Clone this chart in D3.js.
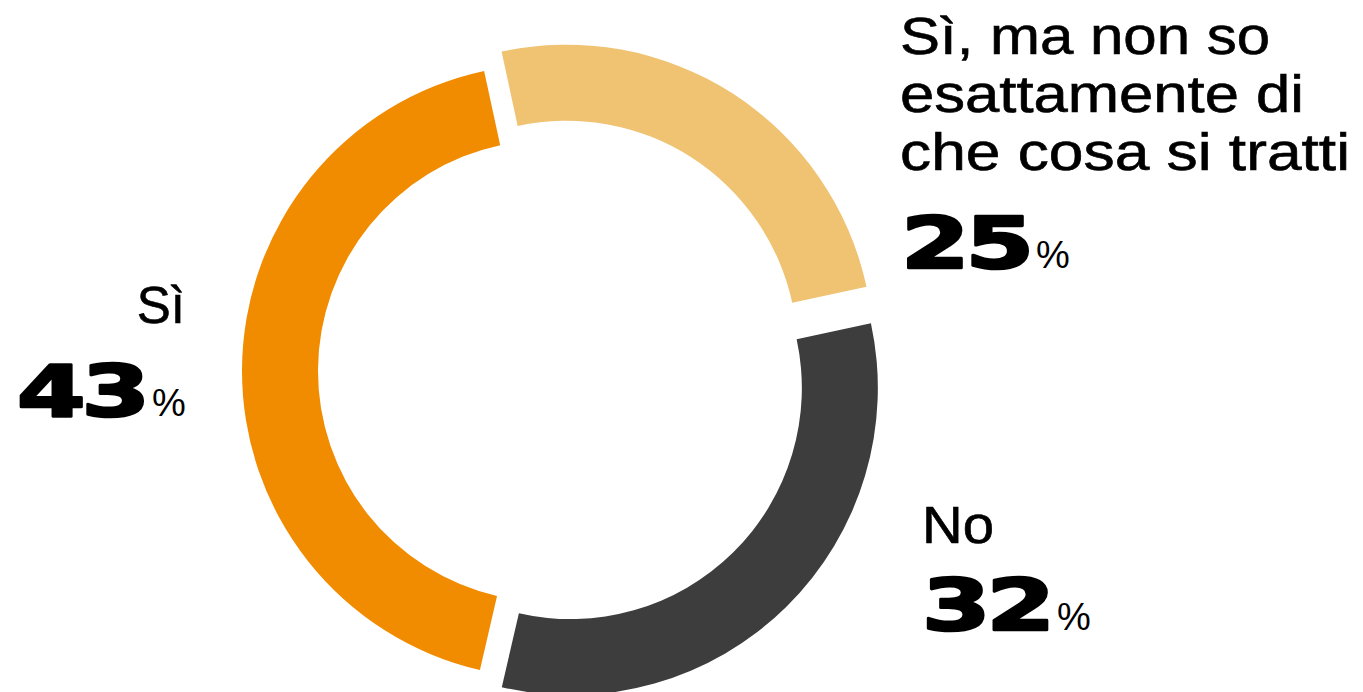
<!DOCTYPE html>
<html>
<head>
<meta charset="utf-8">
<script src="https://cdn.jsdelivr.net/npm/d3@7"></script>
<style>
  html, body { margin: 0; padding: 0; background: #fff; }
  svg { display: block; }
  .label { font-family: "Liberation Sans", Arial, sans-serif; font-size: 51px; fill: #000; stroke: #000; stroke-width: 0.6px; }
  .num { font-family: "DejaVu Sans", sans-serif; font-weight: bold; font-size: 72px; fill: #000; stroke: #000; stroke-width: 2.6px; stroke-linejoin: round; }
  .pct { font-family: "Liberation Sans", Arial, sans-serif; font-size: 38px; fill: #000; }
</style>
</head>
<body>
<svg class="donut" width="1363" height="692"></svg>
<script>
// Data, in pie order (clockwise from the top)
const categories = ["Sì, ma non so esattamente di che cosa si tratti", "No", "Sì"];
const values = [25, 32, 43];
const labelLines = [
  ["Sì, ma non so", "esattamente di", "che cosa si tratti"],
  ["No"],
  ["Sì"]
];
const colors = ["#EFC372", "#3D3D3D", "#F18C00"];

const width = 1363;
const height = 692;
const cx = 554;
const cy = 371;
const outerR = 307;
const innerR = 231;
const startDeg = -12.2;
const explode = [23, 24, 5];

// label blocks, one per slice
const labelLayout = [
  { x: 900, y: 54, step: 58, anchor: "start", widths: [370, 404, 450], numX: 901, numY: 268 },
  { x: 922, y: 543, step: 58, anchor: "start", widths: [72], numX: 922, numY: 630 },
  { x: 185, y: 323, step: 58, anchor: "end", widths: [null], numX: 17, numY: 416 }
];

const svg = d3.select(".donut").attr("viewBox", [0, 0, width, height]);

const pie = d3
  .pie()
  .sort(null)
  .startAngle((startDeg * Math.PI) / 180)
  .endAngle((startDeg * Math.PI) / 180 + Math.PI * 2)
  .value((d) => d);

const arc = d3.arc().innerRadius(innerR).outerRadius(outerR);

const arcs = pie(values);

svg
  .append("g")
  .attr("transform", `translate(${cx},${cy})`)
  .selectAll("path")
  .data(arcs)
  .join("path")
  .attr("d", arc)
  .attr("fill", (d, i) => colors[i])
  .attr("transform", (d, i) => {
    const mid = (d.startAngle + d.endAngle) / 2;
    const dx = Math.sin(mid) * explode[i];
    const dy = -Math.cos(mid) * explode[i];
    return `translate(${dx},${dy})`;
  });

// Labels
const labels = svg
  .append("g")
  .selectAll("g")
  .data(arcs)
  .join("g")
  .attr("class", "slice-label");

const numW = 129;

labels.each(function (d, i) {
  const g = d3.select(this);
  const lay = labelLayout[i];

  labelLines[i].forEach((line, j) => {
    const t = g
      .append("text")
      .attr("class", "label")
      .attr("x", lay.x)
      .attr("y", lay.y + j * lay.step)
      .attr("text-anchor", lay.anchor)
      .text(line);
    if (lay.widths[j]) {
      t.attr("textLength", lay.widths[j]).attr("lengthAdjust", "spacingAndGlyphs");
    }
  });

  // big wide number: stretch the glyphs horizontally
  const ng = g.append("g");
  const num = ng
    .append("text")
    .attr("class", "num")
    .attr("x", 0)
    .attr("y", 0)
    .attr("letter-spacing", -3)
    .text(d.data);
  const natural = num.node().getBBox().width;
  const sx = numW / natural;
  ng.attr("transform", `translate(${lay.numX},${lay.numY}) scale(${sx},1)`);

  g.append("text")
    .attr("class", "pct")
    .attr("x", lay.numX + numW + 6)
    .attr("y", lay.numY)
    .text("%");
});
</script>
</body>
</html>
